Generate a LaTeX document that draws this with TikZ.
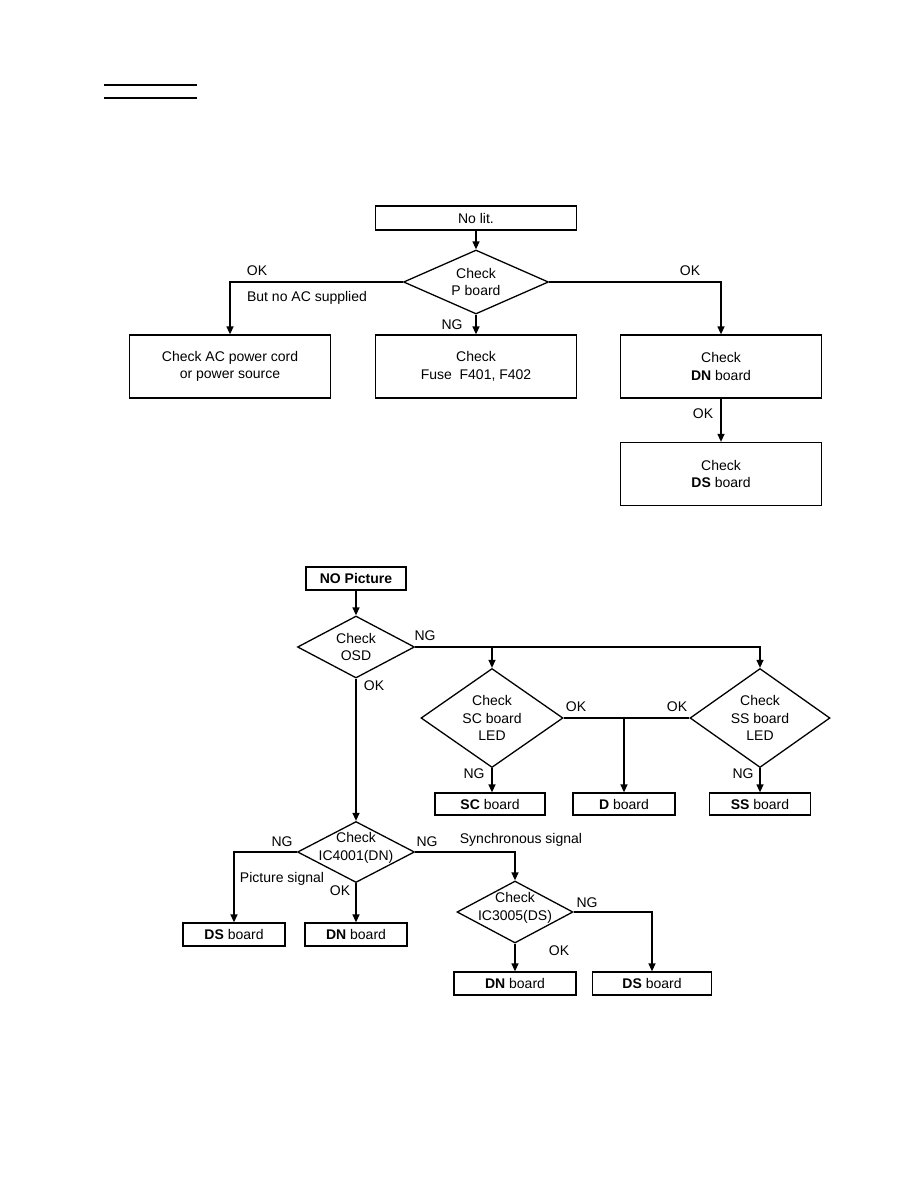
\documentclass[tikz,border=0pt]{standalone}
\usepackage{fontspec}
\setmainfont{Liberation Sans}
\usetikzlibrary{arrows.meta, shapes.geometric}
\newcommand{\chartfont}{\fontsize{14bp}{17.5bp}\selectfont}
\tikzset{
  panel/.style={draw, line width=1.3bp, align=center, inner sep=0pt, font=\chartfont},
  bigpanel/.style={panel, minimum width=201bp, minimum height=63bp},
  query/.style={draw, diamond, line width=1.3bp, inner sep=0pt},
  qtext/.style={align=center, font=\chartfont},
  tag/.style={inner sep=0pt, font=\chartfont},
  flow/.style={-{Triangle[length=8bp,width=7bp]}, line width=1.3bp},
  tie/.style={line width=1.3bp},
}
\begin{document}
\begin{tikzpicture}[x=1bp, y=-1bp]
    \useasboundingbox[fill=white] (0,0) rectangle (918,1188);
    % title rule
    \draw[line width=1.3bp] (104,85) -- (197,85);
    \draw[line width=1.3bp] (104,98) -- (197,98);

    % no lit
    \node[panel, minimum width=201bp, minimum height=24bp] (nolit) at (476,218) {No lit.};
    \node[query, minimum width=145bp, minimum height=64bp,
          label={[qtext]center:Check\\P board}] (pb) at (476,282) {};
    \node[bigpanel] (acsrc) at (230,366.5) {Check AC power cord\\or power source};
    \node[bigpanel] (fuse) at (476,366.5) {Check\\Fuse\ \ F401,\ F402};
    \node[bigpanel] (dnchk) at (721,366.5) {Check\\\textbf{DN} board};
    \node[bigpanel] (dschk) at (721,474) {Check\\\textbf{DS} board};
    \draw[flow] (nolit) -- (pb);
    \draw[flow] (pb.west) -| (acsrc.north);
    \draw[flow] (pb.south) -- (fuse.north);
    \draw[flow] (pb.east) -| (dnchk.north);
    \draw[flow] (dnchk) -- (dschk);
    \node[tag] (lokA) at (257,271) {OK};
    \node[tag] (lnoac) at (307,298) {But no AC supplied};
    \node[tag] (lngA) at (452,325) {NG};
    \node[tag] (lokB) at (690,271) {OK};
    \node[tag] (lokC) at (703,414) {OK};

    % no picture
    \node[panel, minimum width=100bp, minimum height=23bp] (nopic) at (356,578.5) {\textbf{NO Picture}};
    \node[query, minimum width=117bp, minimum height=62bp,
          label={[qtext]center:Check\\OSD}] (osd) at (356,647) {};
    \node[query, minimum width=142bp, minimum height=99bp,
          label={[qtext]center:Check\\SC board\\LED}] (scled) at (492,718) {};
    \node[query, minimum width=140bp, minimum height=99bp,
          label={[qtext]center:Check\\SS board\\LED}] (ssled) at (760,718) {};
    \node[panel, minimum width=110bp, minimum height=22bp] (scb) at (490,804) {\textbf{SC} board};
    \node[panel, minimum width=102bp, minimum height=22bp] (db) at (624,804) {\textbf{D} board};
    \node[panel, minimum width=101bp, minimum height=22bp] (ssb) at (760,804) {\textbf{SS} board};
    \node[query, minimum width=117bp, minimum height=61bp,
          label={[qtext, yshift=4bp]center:Check\\IC4001(DN)}] (icdn) at (356,852) {};
    \node[panel, minimum width=102bp, minimum height=23bp] (dsA) at (234,934.5) {\textbf{DS} board};
    \node[panel, minimum width=102bp, minimum height=23bp] (dnA) at (356,934.5) {\textbf{DN} board};
    \node[query, minimum width=116bp, minimum height=62bp,
          label={[qtext, yshift=4bp]center:Check\\IC3005(DS)}] (icds) at (515,912) {};
    \node[panel, minimum width=122bp, minimum height=23bp] (dnB) at (515,983.5) {\textbf{DN} board};
    \node[panel, minimum width=119bp, minimum height=23bp] (dsB) at (652,983.5) {\textbf{DS} board};

    \draw[flow] (nopic) -- (osd);
    \draw[flow] (osd.east) -| (scled.north);
    \draw[flow] (osd.east) -| (ssled.north);
    \draw[tie]  (scled.east) -- (ssled.west);
    \draw[flow] (scled.east) -| (db.north);
    \draw[flow] (scled.south) -- (scled.south |- scb.north);
    \draw[flow] (ssled.south) -- (ssb.north);
    \draw[flow] (osd.south) -- (icdn.north);
    \draw[flow] (icdn.west) -| (dsA.north);
    \draw[flow] (icdn.south) -- (dnA.north);
    \draw[flow] (icdn.east) -| (icds.north);
    \draw[flow] (icds.south) -- (dnB.north);
    \draw[flow] (icds.east) -| (dsB.north);

    \node[tag] (lngB) at (425,636) {NG};
    \node[tag] (lokD) at (374,686) {OK};
    \node[tag] (lokE) at (576,707) {OK};
    \node[tag] (lokF) at (677,707) {OK};
    \node[tag] (lngC) at (474,774) {NG};
    \node[tag] (lngD) at (743,774) {NG};
    \node[tag] (lngE) at (282,842) {NG};
    \node[tag] (lpic) at (282,879) {Picture signal};
    \node[tag] (lngF) at (427,842) {NG};
    \node[tag] (lsync) at (521,840) {Synchronous signal};
    \node[tag] (lokG) at (340,891) {OK};
    \node[tag] (lngG) at (587,903) {NG};
    \node[tag] (lokH) at (559,951) {OK};
\end{tikzpicture}
\end{document}
